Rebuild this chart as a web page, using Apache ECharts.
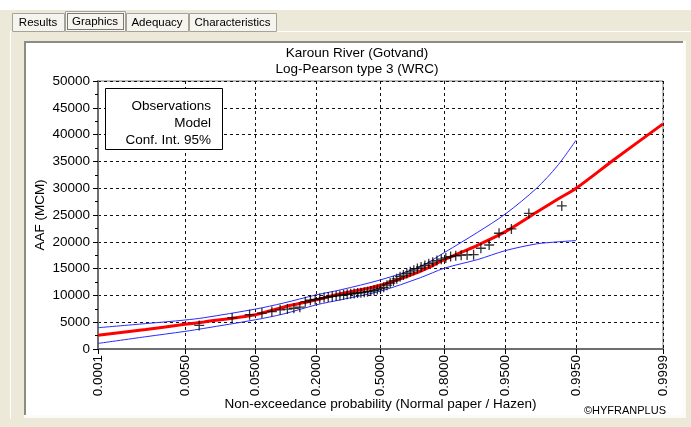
<!DOCTYPE html>
<html>
<head>
<meta charset="utf-8">
<script src="https://cdn.jsdelivr.net/npm/echarts@6/dist/echarts.min.js"></script>
<style>
  html, body { margin: 0; padding: 0; background: #fff; }
  #chart { width: 691px; height: 427px; }
</style>
</head>
<body>
<div id="chart"></div>
<script>
// x ticks (probabilities on normal paper)
const tickProbs = [0.0001, 0.005, 0.05, 0.2, 0.5, 0.8, 0.95, 0.995, 0.9999]
const tickLabels = ['0.0001', '0.0050', '0.0500', '0.2000', '0.5000', '0.8000', '0.9500', '0.9950', '0.9999']

// observations, Hazen plotting positions
const obsProbs = [
  0.0085, 0.0254, 0.0424, 0.0593, 0.0763, 0.0932, 0.1102, 0.1271, 0.1441, 0.1610,
  0.1780, 0.1949, 0.2119, 0.2288, 0.2458, 0.2627, 0.2797, 0.2966, 0.3136, 0.3305,
  0.3475, 0.3644, 0.3814, 0.3983, 0.4153, 0.4322, 0.4492, 0.4661, 0.4831, 0.5000,
  0.5169, 0.5339, 0.5508, 0.5678, 0.5847, 0.6017, 0.6186, 0.6356, 0.6525, 0.6695,
  0.6864, 0.7034, 0.7203, 0.7373, 0.7542, 0.7712, 0.7881, 0.8051, 0.8220, 0.8390,
  0.8559, 0.8729, 0.8898, 0.9068, 0.9237, 0.9407, 0.9576, 0.9746, 0.9915
]
const obsValues = [
  4400, 5800, 6400, 6700, 7000, 7300, 7450, 7600, 7800, 8800,
  9100, 9250, 9400, 9600, 9700, 9800, 9900, 10000, 10100, 10200,
  10300, 10350, 10450, 10500, 10600, 10700, 10800, 10950, 11100, 11300,
  11500, 11900, 12300, 12700, 13100, 13500, 13800, 14100, 14400, 14700,
  15000, 15300, 15600, 15900, 16200, 16500, 16750, 17000, 17250, 17400,
  17500, 17550, 17600, 18800, 19400, 21600, 22400, 25300, 26700
]

// fitted model (Log-Pearson 3)
const modelProbs = [0.0001, 0.001, 0.005, 0.01, 0.05, 0.1, 0.2, 0.3, 0.5, 0.7, 0.8, 0.9, 0.95, 0.98, 0.99, 0.995, 0.999, 0.9999]
const modelValues = [2550, 3650, 4600, 5050, 6400, 7800, 9200, 10300, 11900, 14500, 16650, 19400, 21900, 25500, 27900, 30000, 35500, 42000]

// 95% confidence interval
const ciProbs = [0.0001, 0.001, 0.005, 0.01, 0.05, 0.1, 0.2, 0.3, 0.5, 0.7, 0.8, 0.9, 0.95, 0.98, 0.99, 0.995]
const ciUpper = [3970, 4740, 5400, 5830, 7450, 8560, 10110, 11040, 12900, 15380, 18000, 21800, 25200, 29980, 34130, 38980]
const ciLower = [1040, 2290, 3280, 3840, 5460, 6520, 8250, 9180, 10800, 13300, 15080, 16700, 18360, 19610, 19980, 20230]

// inverse standard normal (Acklam) -> normal probability paper scale
const probit = (p) => {
  const a = [-3.969683028665376e+01, 2.209460984245205e+02, -2.759285104469687e+02, 1.383577518672690e+02, -3.066479806614716e+01, 2.506628277459239e+00]
  const b = [-5.447609879822406e+01, 1.615858368580409e+02, -1.556989798598866e+02, 6.680131188771972e+01, -1.328068155288572e+01]
  const c = [-7.784894002430293e-03, -3.223964580411365e-01, -2.400758277161838e+00, -2.549732539343734e+00, 4.374664141464968e+00, 2.938163982698783e+00]
  const d = [7.784695709041462e-03, 3.224671290700398e-01, 2.445134137142996e+00, 3.754408661907416e+00]
  const pl = 0.02425
  if (p < pl) {
    const q = Math.sqrt(-2 * Math.log(p))
    return (((((c[0] * q + c[1]) * q + c[2]) * q + c[3]) * q + c[4]) * q + c[5]) / ((((d[0] * q + d[1]) * q + d[2]) * q + d[3]) * q + 1)
  }
  if (p <= 1 - pl) {
    const q = p - 0.5
    const r = q * q
    return (((((a[0] * r + a[1]) * r + a[2]) * r + a[3]) * r + a[4]) * r + a[5]) * q / (((((b[0] * r + b[1]) * r + b[2]) * r + b[3]) * r + b[4]) * r + 1)
  }
  const q = Math.sqrt(-2 * Math.log(1 - p))
  return -(((((c[0] * q + c[1]) * q + c[2]) * q + c[3]) * q + c[4]) * q + c[5]) / ((((d[0] * q + d[1]) * q + d[2]) * q + d[3]) * q + 1)
}

const toPoints = (probs, vals) => probs.map((p, i) => [probit(p), vals[i]])
const tickZ = tickProbs.map(probit)

const FONT = '"Liberation Sans", Arial, sans-serif'
const plusPath = 'path://M4,0h1.2v4h4v1.2h-4v4h-1.2v-4h-4v-1.2h4z'

const tab = (x, y, w, h, label, fill) => ([
  { type: 'rect', z: -5, shape: { x: x + 0.5, y: y + 0.5, width: w, height: h }, style: { fill, stroke: '#a5a297', lineWidth: 1 } },
  { type: 'text', z: -4, x: x + w / 2, y: y + h / 2 + 1, style: { text: label, font: '11.5px ' + FONT, fill: '#000', align: 'center', verticalAlign: 'middle' } },
])

const chart = echarts.init(document.getElementById('chart'))
chart.setOption({
  backgroundColor: '#ECE9D8',
  animation: false,
  title: {
    text: 'Karoun River (Gotvand)\nLog-Pearson type 3 (WRC)',
    left: 352,
    top: 41,
    textAlign: 'center',
    textStyle: { fontFamily: FONT, fontSize: 13.5, fontWeight: 'normal', color: '#000', lineHeight: 15.5 },
  },
  grid: {
    left: 98, right: 28, top: 81, bottom: 78,
    show: true, borderColor: '#7a7a7a', borderWidth: 1, backgroundColor: 'transparent',
  },
  xAxis: {
    type: 'value',
    min: tickZ[0],
    max: tickZ[tickZ.length - 1],
    name: 'Non-exceedance probability (Normal paper / Hazen)',
    nameLocation: 'middle',
    nameGap: 48,
    nameMoveOverlap: false,
    nameTextStyle: { fontFamily: FONT, fontSize: 13.5, color: '#000' },
    axisLine: { onZero: false, lineStyle: { color: '#6e6e6e', width: 2 } },
    axisTick: { customValues: tickZ, length: 5, lineStyle: { color: '#000' } },
    axisLabel: {
      customValues: tickZ,
      rotate: 90,
      margin: 6,
      fontFamily: FONT, fontSize: 13.5, color: '#000',
      formatter: (v) => {
        let best = 0
        tickZ.forEach((z, i) => { if (Math.abs(z - v) < Math.abs(tickZ[best] - v)) best = i })
        return tickLabels[best]
      },
    },
    splitLine: { show: true, lineStyle: { color: '#111', type: [3, 3], width: 1 } },
  },
  yAxis: {
    type: 'value',
    min: 0,
    max: 50000,
    interval: 5000,
    name: 'AAF (MCM)',
    nameLocation: 'middle',
    nameGap: 51,
    nameMoveOverlap: false,
    nameTextStyle: { fontFamily: FONT, fontSize: 13.5, color: '#000' },
    axisLine: { show: true, onZero: false, lineStyle: { color: '#6e6e6e', width: 2 } },
    axisTick: { show: true, length: 5, lineStyle: { color: '#000' } },
    minorTick: { show: true, splitNumber: 2, length: 3, lineStyle: { color: '#000' } },
    axisLabel: { margin: 8, fontFamily: FONT, fontSize: 13.5, color: '#000', formatter: (v) => String(v) },
    splitLine: { show: true, lineStyle: { color: '#111', type: [3, 3], width: 1 } },
  },
  graphic: [
    // window chrome
    { type: 'rect', z: -10, shape: { x: 0, y: 0, width: 691, height: 10 }, style: { fill: '#ffffff' } },
    { type: 'rect', z: -9, shape: { x: 10, y: 31, width: 681, height: 1 }, style: { fill: '#ffffff' } },
    { type: 'rect', z: -9, shape: { x: 10, y: 31, width: 1, height: 388 }, style: { fill: '#ffffff' } },
    { type: 'rect', z: -9, shape: { x: 24, y: 41, width: 662, height: 377 }, style: { fill: '#fbfbf8' } },
    { type: 'rect', z: -8, shape: { x: 24, y: 41, width: 659, height: 374 }, style: { fill: '#8d8b83' } },
    { type: 'rect', z: -7, shape: { x: 26, y: 43, width: 657, height: 372 }, style: { fill: '#ffffff' } },
    ...tab(12, 13, 52, 18, 'Results', '#f5f4ee'),
    ...tab(65, 11, 60, 20, 'Graphics', '#f5f4ee'),
    ...tab(126, 13, 62, 18, 'Adequacy', '#f5f4ee'),
    ...tab(189, 13, 87, 18, 'Characteristics', '#f5f4ee'),
    { type: 'rect', z: -3, shape: { x: 67.5, y: 13.5, width: 56, height: 16 }, style: { fill: 'none', stroke: '#000', lineWidth: 1, lineDash: [1, 1] } },
    // legend box
    { type: 'rect', z: 50, shape: { x: 105.5, y: 88.5, width: 117, height: 61 }, style: { fill: '#fff', stroke: '#000', lineWidth: 1 } },
    { type: 'text', z: 51, x: 211, y: 106, style: { text: 'Observations', font: '13.5px ' + FONT, fill: '#000', align: 'right', verticalAlign: 'middle' } },
    { type: 'text', z: 51, x: 211, y: 123, style: { text: 'Model', font: '13.5px ' + FONT, fill: '#000', align: 'right', verticalAlign: 'middle' } },
    { type: 'text', z: 51, x: 211, y: 140, style: { text: 'Conf. Int. 95%', font: '13.5px ' + FONT, fill: '#000', align: 'right', verticalAlign: 'middle' } },
    // credit
    { type: 'text', z: 51, x: 666, y: 411, style: { text: '©HYFRANPLUS', font: '11px ' + FONT, fill: '#000', align: 'right', verticalAlign: 'middle' } },
  ],
  series: [
    {
      name: 'Conf. Int. 95% upper',
      type: 'line',
      data: toPoints(ciProbs, ciUpper),
      smooth: 0.3,
      showSymbol: false,
      lineStyle: { color: '#2a2aff', width: 1 },
      z: 3,
    },
    {
      name: 'Conf. Int. 95% lower',
      type: 'line',
      data: toPoints(ciProbs, ciLower),
      smooth: 0.3,
      showSymbol: false,
      lineStyle: { color: '#2a2aff', width: 1 },
      z: 3,
    },
    {
      name: 'Model',
      type: 'line',
      data: toPoints(modelProbs, modelValues),
      smooth: 0.3,
      showSymbol: false,
      lineStyle: { color: '#ff0000', width: 3 },
      z: 4,
    },
    {
      name: 'Observations',
      type: 'scatter',
      data: toPoints(obsProbs, obsValues),
      symbol: plusPath,
      symbolSize: 10,
      itemStyle: { color: '#000' },
      z: 5,
    },
  ],
})
</script>
</body>
</html>
